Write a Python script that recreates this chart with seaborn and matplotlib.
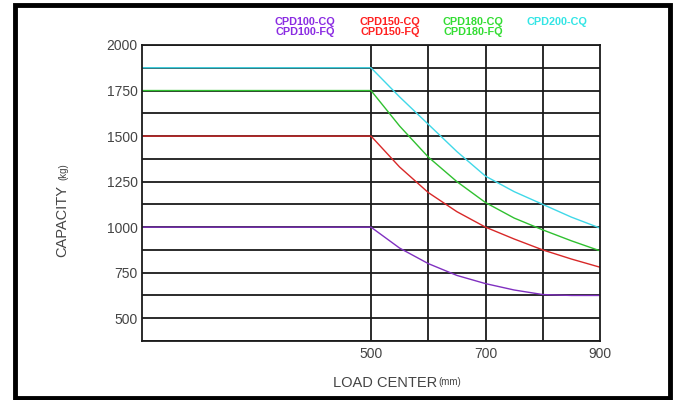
import numpy as np
import pandas as pd
import seaborn as sns
import matplotlib.pyplot as plt
from matplotlib.patches import Rectangle

# load center (mm) and capacity (kg)
load_center = [100, 500, 550, 600, 650, 700, 750, 800, 850, 900]
cap_cpd100 = [1000, 1000, 885, 800, 735, 690, 655, 630, 625, 625]
cap_cpd150 = [1500, 1500, 1330, 1190, 1085, 1000, 935, 875, 825, 780]
cap_cpd180 = [1750, 1750, 1555, 1385, 1250, 1135, 1050, 985, 925, 870]
cap_cpd200 = [1875, 1875, 1715, 1565, 1415, 1280, 1195, 1125, 1055, 995]

models = ['CPD100', 'CPD150', 'CPD180', 'CPD200']
legend_rows = [['CPD100-CQ', 'CPD100-FQ'],
               ['CPD150-CQ', 'CPD150-FQ'],
               ['CPD180-CQ', 'CPD180-FQ'],
               ['CPD200-CQ']]
line_colors = ['#8030c0', '#d82828', '#30c030', '#40d8e8']
text_colors = ['#8a2be2', '#ff2020', '#33dd33', '#33e5e5']

x_ticks = [500, 700, 900]
x_grid = [500, 600, 700, 800]
y_ticks = [500, 750, 1000, 1250, 1500, 1750, 2000]
y_minor = [375, 625, 875, 1125, 1375, 1625, 1875]

df = pd.DataFrame({
    'load': load_center * 4,
    'cap': cap_cpd100 + cap_cpd150 + cap_cpd180 + cap_cpd200,
    'model': np.repeat(models, len(load_center)),
})

sns.set_style('white')
plt.rcParams['font.family'] = ['Liberation Sans', 'DejaVu Sans']

fig = plt.figure(figsize=(6.77, 4.0), dpi=100)
ax = fig.add_axes([0.2097, 0.1475, 0.6766, 0.74])

# grid first so the curves sit on top
ax.set_yticks(y_ticks)
ax.set_yticks(y_minor, minor=True)
ax.yaxis.grid(True, which='both', color='#1a1a1a', lw=1.3)
ax.vlines(x_grid, 375, 2000, color='#1a1a1a', lw=1.3)
ax.set_axisbelow(True)

sns.lineplot(data=df, x='load', y='cap', hue='model', palette=line_colors,
             lw=1.0, ax=ax, legend=False, sort=False, estimator=None)

ax.set_xlim(100, 900)
ax.set_ylim(375, 2000)
ax.set_xticks(x_ticks)
ax.tick_params(axis='both', length=0, labelsize=10, labelcolor='#444444')
ax.tick_params(axis='x', pad=4)
ax.tick_params(axis='y', pad=3)
for s in ax.spines.values():
    s.set_color('#1a1a1a')
    s.set_linewidth(1.3)
ax.set_xlabel('')
ax.set_ylabel('')

# axis titles
fig.text(0.492, 0.043, 'LOAD CENTER', fontsize=10.5, color='#444444',
         ha='left', va='center')
fig.text(0.648, 0.045, '(mm)', fontsize=7, color='#444444',
         ha='left', va='center')
fig.text(0.092, 0.4475, 'CAPACITY', fontsize=10.5, color='#444444',
         rotation=90, ha='center', va='center')
fig.text(0.094, 0.57, '(kg)', fontsize=7, color='#444444',
         rotation=90, ha='center', va='center')

# coloured model legend
leg_x = [0.451, 0.576, 0.699, 0.823]
for rows, c, lx in zip(legend_rows, text_colors, leg_x):
    for i, t in enumerate(rows):
        fig.text(lx, 0.945 - i * 0.026, t, fontsize=7.8, fontweight='bold',
                 color=c, ha='center', va='center')

# outer frame
fig.patches.append(Rectangle((0.022, 0.006), 0.968, 0.982,
                             transform=fig.transFigure, fill=False,
                             edgecolor='black', lw=3.5))

fig.savefig('out.png', dpi=100)
